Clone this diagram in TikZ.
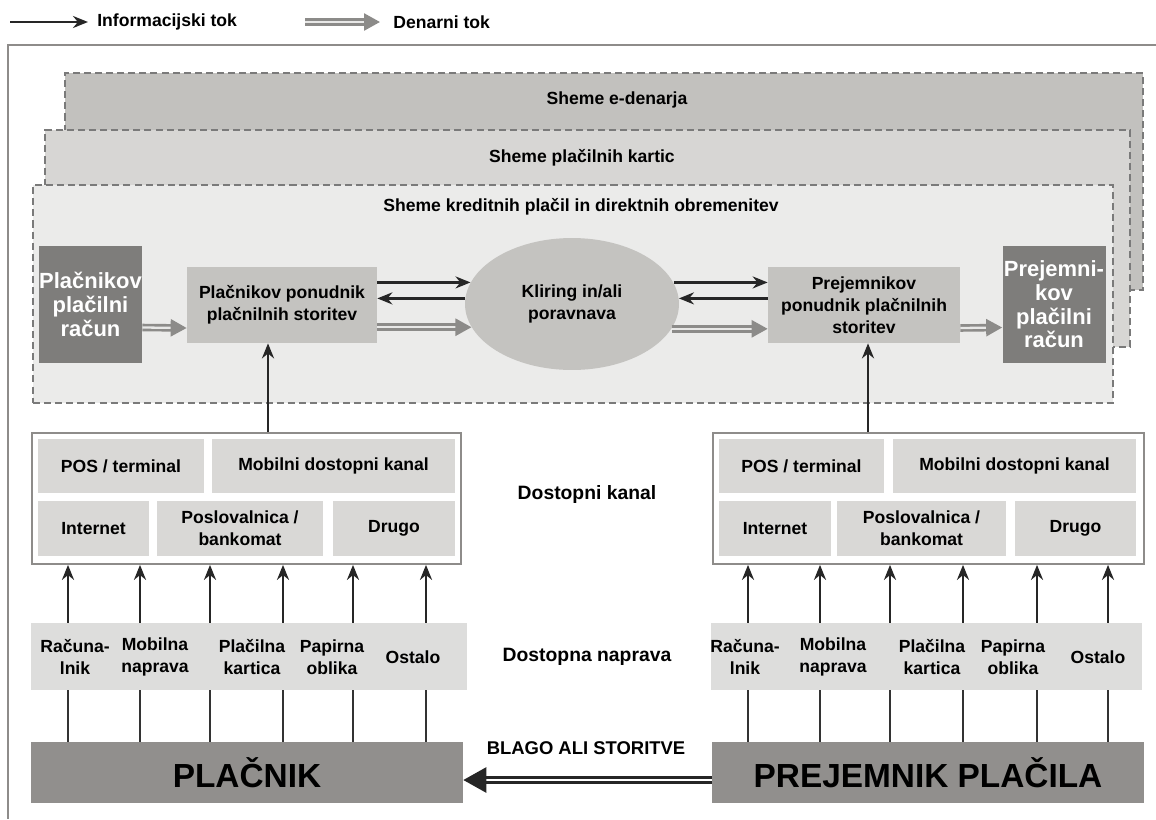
\documentclass[tikz,border=0pt]{standalone}
\usepackage{fontspec}
\setmainfont{Liberation Sans}
\usetikzlibrary{arrows.meta, shapes.geometric}

\definecolor{edcol}{HTML}{C2C1BE}
\definecolor{kartcol}{HTML}{D7D6D4}
\definecolor{kredcol}{HTML}{EBEBEA}
\definecolor{darkbox}{HTML}{7E7D7B}
\definecolor{midbox}{HTML}{C4C3C0}
\definecolor{cellcol}{HTML}{D9D8D6}
\definecolor{stripcol}{HTML}{DDDDDC}
\definecolor{partycol}{HTML}{918F8D}
\definecolor{moneycol}{HTML}{8C8B89}
\definecolor{framecol}{HTML}{8E8C8A}
\definecolor{dashcol}{HTML}{7A7A7A}

\begin{document}
\begin{tikzpicture}[x=0.02cm, y=-0.02cm,
    every node/.style={font=\fontsize{10}{12.5}\selectfont\bfseries, align=center, inner sep=0pt},
    layer/.style={rectangle, draw=dashcol, line width=0.8pt, dash pattern=on 4pt off 2.3pt},
    account/.style={rectangle, fill=darkbox, text=white, minimum width=2.06cm, minimum height=2.34cm, font=\fontsize{12.5}{13.5}\selectfont\bfseries},
    provider/.style={rectangle, fill=midbox, minimum height=1.52cm},
    cell/.style={rectangle, fill=cellcol, minimum height=1.08cm},
    chanbox/.style={rectangle, draw=framecol, line width=1pt, fill=white, minimum height=2.62cm},
    strip/.style={rectangle, fill=stripcol, minimum height=1.34cm},
    party/.style={rectangle, fill=partycol, minimum width=8.64cm, minimum height=1.22cm, font=\fontsize{19}{22}\selectfont\bfseries},
    info/.style={-{Stealth[length=0.3cm, width=0.24cm]}, line width=1.3pt, draw=black!85},
    infoback/.style={info, line width=2pt},
    upinfo/.style={info, line width=1.6pt},
    money/.style={-{Triangle[length=0.32cm, width=0.34cm]}, draw=moneycol, line width=1.5pt, double=white!80!moneycol, double distance=1.3pt},
    goods/.style={-{Triangle[length=0.46cm, width=0.5cm]}, draw=black!85, line width=1.5pt, double=white, double distance=1.6pt},
    link/.style={line width=1.3pt, draw=black!80}
  ]
  \useasboundingbox (0,0) rectangle (1156,819);

  % legend
  \coordinate (leginfo) at (10,22);
  \node[anchor=west] (leginfotxt) at (97,22) {Informacijski tok};
  \coordinate (legmoney) at (305,22);
  \node[anchor=west] (legmoneytxt) at (393,22) {Denarni tok};
  \draw[info, line width=1.6pt] (leginfo) -- ([xshift=-0.18cm]leginfotxt.west);
  \draw[money] (legmoney) -- ([xshift=-0.26cm]legmoneytxt.west);

  % frame
  \draw[framecol, line width=1.3pt] (1156,45) -- (8,45) -- (8,819);

  % schemes
  \node[layer, fill=edcol, minimum width=21.56cm, minimum height=4.34cm] (edenar) at (604,181.5) {};
  \node (edenartxt) at (617,100) {Sheme e-denarja};
  \node[layer, fill=kartcol, minimum width=21.7cm, minimum height=4.34cm] (kartic) at (587.5,238.5) {};
  \node (karttxt) at (582,158) {Sheme plačilnih kartic};
  \node[layer, fill=kredcol, minimum width=21.6cm, minimum height=4.36cm] (kredit) at (573,294) {};
  \node (kredtxt) at (581,207) {Sheme kreditnih plačil in direktnih obremenitev};

  \node[account] (placrac) at (90.5,304.5) {Plačnikov\\plačilni\\račun};
  \node[provider, minimum width=3.8cm] (placpps) at (282,305) {Plačnikov ponudnik\\plačnilnih storitev};
  \node[ellipse, fill=midbox, minimum width=4.28cm, minimum height=2.64cm] (kliring) at (572,304) {Kliring in/ali\\poravnava};
  \node[provider, minimum width=3.84cm] (prejpps) at (864,305) {Prejemnikov\\ponudnik plačnilnih\\storitev};
  \node[account] (prejrac) at (1054,304.5) {Prejemni-\\kov\\plačilni\\račun};

  \draw[money] ([yshift=-0.46cm]placrac.east) -- ([yshift=-0.46cm]placpps.west);
  \draw[info] (kliring.168 -| placpps.east) -- (kliring.168);
  \draw[infoback] (kliring.177) -- (kliring.177 -| placpps.east);
  \draw[money] (kliring.193.5 -| placpps.east) -- (kliring.193.5);
  \draw[info] (kliring.12) -- (kliring.12 -| prejpps.west);
  \draw[infoback] (kliring.3 -| prejpps.west) -- (kliring.3);
  \draw[money] (kliring.346.5) -- (kliring.346.5 -| prejpps.west);
  \draw[money] ([yshift=-0.46cm]prejpps.east) -- ([yshift=-0.46cm]prejrac.west);

  % access channels
  \node[chanbox, minimum width=8.58cm] (chanl) at (246.5,498.5) {};
  \node[cell, minimum width=3.32cm] (posl) at (121,466) {POS / terminal};
  \node[cell, minimum width=4.86cm] (mobl) at (333.5,466) {Mobilni dostopni kanal};
  \node[cell, minimum width=2.22cm, minimum height=1.1cm] (netl) at (93.5,528.5) {Internet};
  \node[cell, minimum width=3.32cm, minimum height=1.1cm] (poslovl) at (240,528.5) {Poslovalnica /\\bankomat};
  \node[cell, minimum width=2.44cm, minimum height=1.1cm] (drugol) at (394,528.5) {Drugo};

  \node[chanbox, minimum width=8.62cm] (chanr) at (928.5,498.5) {};
  \node[cell, minimum width=3.3cm] (posr) at (801.5,466) {POS / terminal};
  \node[cell, minimum width=4.86cm] (mobr) at (1014.5,466) {Mobilni dostopni kanal};
  \node[cell, minimum width=2.24cm, minimum height=1.1cm] (netr) at (775,528.5) {Internet};
  \node[cell, minimum width=3.38cm, minimum height=1.1cm] (poslovr) at (921.5,528.5) {Poslovalnica /\\bankomat};
  \node[cell, minimum width=2.42cm, minimum height=1.1cm] (drugor) at (1075.5,528.5) {Drugo};

  \node[font=\fontsize{11}{13}\selectfont\bfseries] (kanaltxt) at (587,494) {Dostopni kanal};

  \draw[upinfo] (chanl.north -| 268,0) -- (placpps.south -| 268,0);
  \draw[upinfo] (chanr.north -| 868,0) -- (prejpps.south -| 868,0);

  % access devices
  \node[strip, minimum width=8.72cm] (devl) at (249,656.5) {};
  \node (racl) at (75,657) {Računa-\\lnik};
  \node (mobnl) at (155,657) {Mobilna\\naprava};
  \node (kartl) at (252,657) {Plačilna\\kartica};
  \node (papl) at (332,657) {Papirna\\oblika};
  \node (ostl) at (413,657) {Ostalo};

  \node[strip, minimum width=8.62cm] (devr) at (926.5,656.5) {};
  \node (racr) at (745,657) {Računa-\\lnik};
  \node (mobnr) at (833,657) {Mobilna\\naprava};
  \node (kartr) at (932,657) {Plačilna\\kartica};
  \node (papr) at (1013,657) {Papirna\\oblika};
  \node (ostr) at (1098,657) {Ostalo};

  \node[font=\fontsize{11}{13}\selectfont\bfseries] (napravatxt) at (587,657) {Dostopna naprava};

  % parties
  \node[party] (placnik) at (247,772.5) {PLAČNIK};
  \node[party] (prejemnik) at (928,772.5) {PREJEMNIK PLAČILA};
  \node[font=\fontsize{10.5}{12}\selectfont\bfseries] (blagotxt) at (586,748) {BLAGO ALI STORITVE};
  \draw[goods] ([yshift=-0.15cm]prejemnik.west) -- ([yshift=-0.15cm]placnik.east);

  \foreach \x in {68,140,210,283,353,426} {
    \draw[upinfo] (devl.north -| \x,0) -- (chanl.south -| \x,0);
    \draw[link] (placnik.north -| \x,0) -- (devl.south -| \x,0);
  }
  \foreach \x in {748,820,890,963,1037,1108} {
    \draw[upinfo] (devr.north -| \x,0) -- (chanr.south -| \x,0);
    \draw[link] (prejemnik.north -| \x,0) -- (devr.south -| \x,0);
  }
\end{tikzpicture}
\end{document}
